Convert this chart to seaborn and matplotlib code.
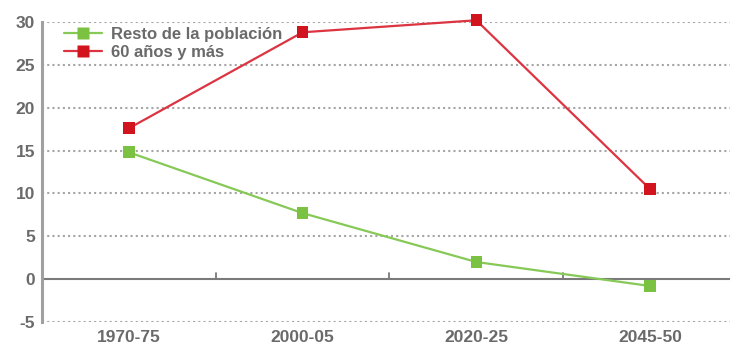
import matplotlib
matplotlib.use("Agg")
import matplotlib.pyplot as plt
import seaborn as sns
import pandas as pd
from matplotlib.lines import Line2D

periods = ["1970-75", "2000-05", "2020-25", "2045-50"]
resto = [14.8, 7.7, 2.0, -0.8]
mayores = [17.6, 28.8, 30.2, 10.5]
series_names = ["Resto de la población", "60 años y más"]
yticks = [-5, 0, 5, 10, 15, 20, 25, 30]

df = pd.DataFrame({
    "periodo": periods * 2,
    "pos": list(range(len(periods))) * 2,
    "valor": resto + mayores,
    "serie": [series_names[0]] * len(periods) + [series_names[1]] * len(periods),
})

sns.set_style("white")
plt.rcParams["font.family"] = ["Liberation Sans", "DejaVu Sans"]

fig = plt.figure(figsize=(7.3, 3.45), dpi=100)
ax = fig.add_axes([42 / 730, 1 - 322 / 345, 1 - 42 / 730, 300 / 345])

palette = {series_names[0]: "#7cc242", series_names[1]: "#d2141f"}
line_colors = {series_names[0]: "#86c957", series_names[1]: "#dc3440"}

for name in series_names:
    sub = df[df["serie"] == name]
    sns.lineplot(data=sub, x="pos", y="valor", ax=ax, color=line_colors[name],
                 linewidth=1.6, legend=False, zorder=3, clip_on=False)
    sns.scatterplot(data=sub, x="pos", y="valor", ax=ax, color=palette[name],
                    marker="s", s=70, edgecolor="none", legend=False, zorder=4,
                    clip_on=False)

ax.set_xlim(-0.5, 3.46)
ax.set_ylim(-5, 30)
ax.set_yticks(yticks)
ax.set_yticklabels([str(v) for v in yticks], color="#6a6a6a", fontsize=12.5,
                   fontweight="bold")
ax.tick_params(axis="y", length=0, pad=5)

# dotted horizontal grid, solid zero line
for v in yticks:
    if v != 0:
        ax.axhline(v, color="#a5a5a5", linestyle=(0, (1.0, 1.5)), linewidth=1.5,
                   zorder=1)
ax.axhline(0, color="#7a7a7a", linewidth=1.5, zorder=2)

# small upward ticks on the zero line between periods
for xb in [0.5, 1.5, 2.5]:
    ax.plot([xb, xb], [0, 0.7], color="#7a7a7a", linewidth=1.3, zorder=2)

ax.set_xticks(range(len(periods)))
ax.set_xticklabels(periods, color="#6a6a6a", fontsize=12.5, fontweight="bold")
ax.tick_params(axis="x", length=0, pad=6)
ax.set_xlabel("")
ax.set_ylabel("")

for side in ["top", "right", "bottom"]:
    ax.spines[side].set_visible(False)
ax.spines["left"].set_color("#a0a0a0")
ax.spines["left"].set_linewidth(2.2)

# legend
handles = [Line2D([0], [0], color=line_colors[n], linewidth=1.6, marker="s",
                  markersize=8, markerfacecolor=palette[n], markeredgecolor="none")
           for n in series_names]
leg = ax.legend(handles, series_names, loc="upper left", bbox_to_anchor=(0.02, 1.012),
                frameon=False, handlelength=2.3, handletextpad=0.5,
                labelspacing=0.2, borderaxespad=0.1,
                prop={"family": ["Liberation Sans", "DejaVu Sans"], "weight": "bold",
                      "size": 12})
for t in leg.get_texts():
    t.set_color("#6a6a6a")

fig.savefig("out.png", dpi=100)
